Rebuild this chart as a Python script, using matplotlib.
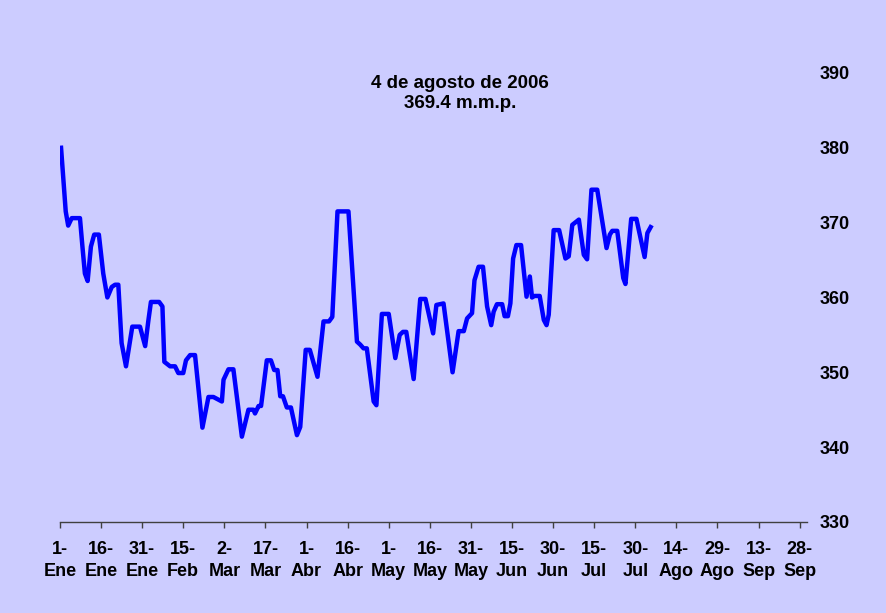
import matplotlib
matplotlib.use('Agg')
import matplotlib.pyplot as plt

plt.rcParams['font.family'] = ['Liberation Sans', 'DejaVu Sans']

# days since 1-Ene-2006 and price (m.m.p.)
days = [0.4, 2.1, 3.0, 4.3, 7.3, 8.2, 9.1, 10.1, 11.3, 12.5, 14.2, 15.8, 17.3, 18.9,
        20.1, 21.3, 22.5, 24.1, 25.6, 26.4, 29.2, 31.1, 32.3, 33.2, 36.2, 37.4, 38.1,
        40.2, 42.0, 43.2, 45.0, 46.0, 47.5, 49.3, 52.0, 54.2, 56.0, 59.1, 59.7, 61.5,
        63.3, 66.4, 68.8, 70.6, 71.2, 72.5, 73.4, 75.5, 77.0, 78.2, 79.4, 80.4, 81.4,
        82.8, 84.3, 86.5, 87.7, 89.7, 91.2, 94.0, 96.2, 98.2, 99.4, 101.3, 105.3, 108.4,
        109.6, 110.8, 112.0, 114.5, 115.5, 117.5, 120.0, 122.4, 124.0, 125.2, 126.4,
        129.1, 131.5, 133.4, 136.2, 137.4, 140.0, 143.3, 145.5, 147.4, 148.6, 150.4,
        151.3, 152.8, 154.4, 155.9, 157.4, 158.3, 159.5, 161.4, 162.3, 163.5, 164.4,
        165.4, 166.6, 168.3, 170.3, 171.5, 172.3, 173.2, 175.1, 176.6, 177.6, 178.4,
        180.2, 182.2, 184.5, 185.7, 187.0, 189.4, 191.2, 192.4, 194.0, 196.1, 199.5,
        200.7, 201.6, 203.4, 205.6, 206.4, 208.5, 210.4, 213.4, 214.4, 215.6]
prices = [380.0, 371.5, 369.6, 370.6, 370.6, 366.8, 363.2, 362.2, 366.8, 368.4, 368.4,
          363.2, 360.0, 361.4, 361.7, 361.7, 353.9, 350.8, 354.3, 356.1, 356.1, 353.5,
          357.0, 359.4, 359.4, 358.8, 351.4, 350.8, 350.8, 349.9, 349.9, 351.6, 352.3,
          352.3, 342.6, 346.7, 346.7, 346.1, 349.0, 350.4, 350.4, 341.4, 345.0, 345.0,
          344.5, 345.5, 345.5, 351.6, 351.6, 350.3, 350.3, 346.8, 346.8, 345.3, 345.3,
          341.6, 342.7, 353.0, 353.0, 349.4, 356.8, 356.8, 357.4, 371.5, 371.5, 354.1,
          353.7, 353.2, 353.2, 346.1, 345.6, 357.8, 357.8, 351.9, 355.0, 355.4, 355.4,
          349.1, 359.8, 359.8, 355.2, 359.0, 359.2, 350.0, 355.5, 355.5, 357.2, 357.9,
          362.3, 364.1, 364.1, 358.8, 356.3, 358.1, 359.1, 359.1, 357.5, 357.5, 359.2,
          365.2, 367.0, 367.0, 360.1, 362.8, 360.0, 360.2, 360.2, 357.0, 356.3, 357.7,
          369.0, 369.0, 365.2, 365.5, 369.7, 370.4, 365.7, 365.1, 374.4, 374.4, 366.6,
          368.4, 368.9, 368.9, 362.6, 361.8, 370.5, 370.5, 365.4, 368.6, 369.4]

tick_days = list(range(0, 271, 15))
tick_labels = ['1-\nEne', '16-\nEne', '31-\nEne', '15-\nFeb', '2-\nMar', '17-\nMar',
               '1-\nAbr', '16-\nAbr', '1-\nMay', '16-\nMay', '31-\nMay', '15-\nJun',
               '30-\nJun', '15-\nJul', '30-\nJul', '14-\nAgo', '29-\nAgo', '13-\nSep',
               '28-\nSep']
y_ticks = [330, 340, 350, 360, 370, 380, 390]

bg = '#CCCCFF'
fig = plt.figure(figsize=(8.87, 6.13), dpi=100, facecolor=bg)
ax = fig.add_axes([0.0676, 0.1485, 0.842, 0.7325], facecolor=bg)

ax.plot(days, prices, color='#0000FF', linewidth=3.2, solid_joinstyle='round')

ax.set_xlim(0, 272.6)
ax.set_ylim(330, 390)
ax.set_xticks(tick_days)
ax.set_xticklabels(tick_labels, fontsize=13, fontweight='bold', linespacing=1.35)
ax.set_yticks(y_ticks)
ax.set_yticklabels([str(v) for v in y_ticks], fontsize=13, fontweight='bold')
ax.yaxis.tick_right()
ax.tick_params(axis='y', length=0, pad=9)
ax.tick_params(axis='x', length=4, width=1, color='#404040', pad=10)

for side in ['top', 'left', 'right']:
    ax.spines[side].set_visible(False)
ax.spines['bottom'].set_color('#404040')
ax.spines['bottom'].set_linewidth(1)

fig.text(0.5186, 0.847, '4 de agosto de 2006\n369.4 m.m.p.', ha='center', va='center',
         fontsize=13.5, fontweight='bold', linespacing=1.25)

fig.savefig('out.png', dpi=100, facecolor=bg)
